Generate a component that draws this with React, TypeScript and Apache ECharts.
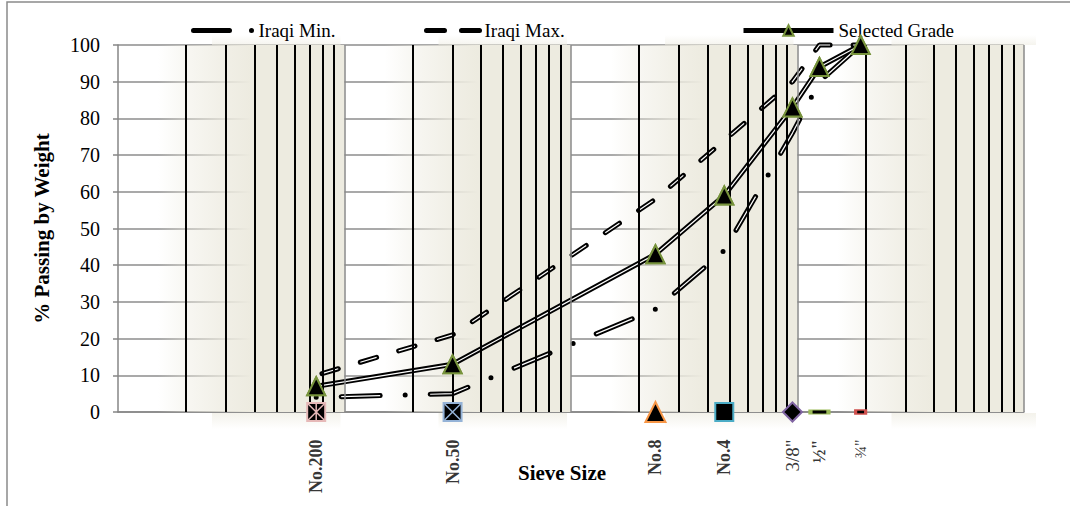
import React, { useEffect, useRef } from 'react';
import * as echarts from 'echarts';

// ---- data ----
const sieveNames = ['No.200', 'No.50', 'No.8', 'No.4', '3/8"', '½"', '¾"'];
const sieveSizes = [0.075, 0.3, 2.36, 4.75, 9.5, 12.5, 19];
const iraqiMin = [4, 5, 28, 44, 76, 90, 100];
const iraqiMax = [10, 21, 58, 74, 90, 100, 100];
const selectedGrade = [7, 13, 43, 59, 83, 94, 100];
const decadeStarts = [0.01, 0.1, 1, 10];
const minorMultipliers = [2, 3, 4, 5, 6, 7, 8, 9];
const majorLines = [0.1, 1, 10, 100];

// ---- style config ----
const FONT = "'Liberation Serif', 'Times New Roman', serif";
const GLOW = '237,235,224';
const GREEN = '#77933C';
const markerStyles: any[] = [
  { symbol: 'rect', size: 18, border: '#E6B9B8' },
  { symbol: 'rect', size: 18, border: '#95B3D7' },
  { symbol: 'triangle', size: 20, border: '#F79646' },
  { symbol: 'rect', size: 18, border: '#4BACC6' },
  { symbol: 'diamond', size: 19, border: '#8064A2' },
  { symbol: 'rect', size: [18, 4], border: '#9BBB59' },
  { symbol: 'rect', size: [10, 4], border: '#D0504D' },
];
const overlayMarks: any[] = [
  { idx: 0, path: 'path://M0,0L10,10M10,0L0,10M5,0L5,10', color: '#E6B9B8' },
  { idx: 1, path: 'path://M0,0L10,10M10,0L0,10', color: '#95B3D7' },
];
const labelStyles: any[] = [
  { fontWeight: 'bold', fontSize: 18 },
  { fontWeight: 'bold', fontSize: 18 },
  { fontWeight: 'bold', fontSize: 18 },
  { fontWeight: 'bold', fontSize: 18 },
  { fontWeight: 'normal', fontSize: 19 },
  { fontWeight: 'bold', fontSize: 18 },
  { fontWeight: 'normal', fontSize: 16 },
];

const pts = (vals: number[]) => sieveSizes.map((x, i) => [x, vals[i]]);

const MIN_DASH = [39, 25, 0, 25];
const MAX_DASH = [17, 23];

export default function App() {
  const ref = useRef<HTMLDivElement>(null);

  useEffect(() => {
    if (!ref.current) return;
    const chart = echarts.init(ref.current, null, { renderer: 'svg' });

    const glowGrad = {
      type: 'linear', x: 0, y: 0, x2: 1, y2: 0,
      colorStops: [
        { offset: 0, color: `rgba(${GLOW},0)` },
        { offset: 0.15, color: `rgba(${GLOW},0.4)` },
        { offset: 0.36, color: `rgba(${GLOW},0.8)` },
        { offset: 0.5, color: `rgba(${GLOW},1)` },
        { offset: 1, color: `rgba(${GLOW},1)` },
      ],
    };

    const bandData = decadeStarts.map((d) => [
      { xAxis: 1.5 * d, itemStyle: { color: glowGrad, opacity: 1 } },
      { xAxis: 10 * d },
    ]);

    const vLines: any[] = [];
    decadeStarts.forEach((d) =>
      minorMultipliers.forEach((m) =>
        vLines.push({ xAxis: m * d, lineStyle: { color: '#000', width: 2, type: 'solid' } })
      )
    );
    majorLines.forEach((v) =>
      vLines.push({ xAxis: v, lineStyle: { color: '#8a8a8a', width: 1.5, type: 'solid' } })
    );

    const textStyle = { fontFamily: FONT, fontSize: 19, color: '#000' };

    const option: any = {
      animation: false,
      textStyle: { fontFamily: FONT },
      grid: { left: 118, right: 46, top: 45, bottom: 94, containLabel: false },
      legend: [
        {
          data: ['Iraqi Min.'], left: 186, top: 16, itemWidth: 60, itemHeight: 12, itemGap: 0,
          textStyle, selectedMode: false, itemStyle: { opacity: 0 },
          lineStyle: { width: 5, dashOffset: 0, type: [36, 22, 0, 22] },
        },
        {
          data: ['Iraqi Max.'], left: 419, top: 16, itemWidth: 53, itemHeight: 12,
          textStyle, selectedMode: false, itemStyle: { opacity: 0 },
          lineStyle: { width: 5, dashOffset: 0, type: [18, 17] },
        },
        {
          data: ['Selected Grade'], left: 736, top: 16, itemWidth: 90, itemHeight: 13,
          textStyle, selectedMode: false, lineStyle: { width: 5 },
        },
      ],
      xAxis: {
        type: 'log', logBase: 10, min: 0.01, max: 100,
        name: 'Sieve Size', nameLocation: 'middle', nameGap: 50,
        nameTextStyle: { fontFamily: FONT, fontWeight: 'bold', fontSize: 21, color: '#000', padding: [0, 18, 0, 0] },
        axisLine: { lineStyle: { color: '#868686', width: 1.5 } },
        axisTick: { show: false },
        axisLabel: { show: false },
        splitLine: { show: false },
        minorTick: { show: false },
      },
      yAxis: {
        type: 'value', min: 0, max: 100, interval: 10,
        name: '% Passing by Weight', nameLocation: 'middle', nameGap: 66,
        nameTextStyle: { fontFamily: FONT, fontWeight: 'bold', fontSize: 21, color: '#000' },
        axisLine: { show: true, lineStyle: { color: '#868686', width: 1.5 } },
        axisTick: { show: true, length: 5, lineStyle: { color: '#868686', width: 1.5 } },
        axisLabel: { fontFamily: FONT, fontSize: 20, color: '#000', margin: 18 },
        splitLine: { show: true, lineStyle: { color: '#8c8c8c', width: 1.5 } },
      },
      series: [
        {
          name: 'bg', type: 'scatter', data: [[1, 50]], symbolSize: 0, silent: true, z: 1,
          itemStyle: { opacity: 0 },
          markArea: { silent: true, data: bandData },
          markLine: { silent: true, symbol: 'none', label: { show: false }, data: vLines },
        },
        {
          name: 'Iraqi Min.', type: 'line', data: pts(iraqiMin), symbol: 'none', z: 3, clip: false,
          itemStyle: { color: '#000' },
          lineStyle: { color: '#000', width: 5, type: MIN_DASH, dashOffset: 64, cap: 'round' },
        },
        {
          name: 'Iraqi Min. inner', type: 'line', data: pts(iraqiMin), symbol: 'none', z: 4, clip: false,
          lineStyle: { color: '#fff', width: 1.2, type: MIN_DASH, dashOffset: 64, cap: 'butt' },
        },
        {
          name: 'Iraqi Max.', type: 'line', data: pts(iraqiMax), symbol: 'none', z: 3, clip: false,
          itemStyle: { color: '#000' },
          lineStyle: { color: '#000', width: 5, type: MAX_DASH, dashOffset: 33.5, cap: 'round' },
        },
        {
          name: 'Iraqi Max. inner', type: 'line', data: pts(iraqiMax), symbol: 'none', z: 4, clip: false,
          lineStyle: { color: '#fff', width: 1.2, type: MAX_DASH, dashOffset: 33.5, cap: 'butt' },
        },
        {
          name: 'Selected Grade', type: 'line', data: pts(selectedGrade), symbol: 'triangle', symbolSize: 18,
          z: 3, clip: false,
          itemStyle: { color: '#000', borderColor: GREEN, borderWidth: 2 },
          lineStyle: { color: '#000', width: 5, type: 'solid' },
        },
        {
          name: 'Selected Grade inner', type: 'line', data: pts(selectedGrade), symbol: 'none', z: 4, clip: false,
          lineStyle: { color: '#fff', width: 1.2, type: 'solid' },
        },
        {
          name: 'Selected Grade markers', type: 'scatter', data: pts(selectedGrade), symbol: 'triangle',
          symbolSize: 18, z: 6, clip: false,
          itemStyle: { color: '#000', borderColor: GREEN, borderWidth: 2, opacity: 1 },
        },
        {
          name: 'Sieve markers', type: 'scatter', z: 5, clip: false, silent: true,
          data: sieveSizes.map((x, i) => ({
            value: [x, 0],
            symbol: markerStyles[i].symbol,
            symbolSize: markerStyles[i].size,
            itemStyle: { color: '#000', borderColor: markerStyles[i].border, borderWidth: 2, opacity: 1 },
          })),
        },
        {
          name: 'Sieve marker overlay', type: 'scatter', z: 6, clip: false, silent: true,
          data: overlayMarks.map((o) => ({
            value: [sieveSizes[o.idx], 0],
            symbol: o.path,
            symbolSize: 16,
            itemStyle: { color: 'rgba(0,0,0,0)', borderColor: o.color, borderWidth: 1.5, opacity: 1 },
          })),
        },
        {
          name: 'Sieve labels', type: 'scatter', z: 6, clip: false, silent: true, symbolSize: 1,
          itemStyle: { color: 'rgba(0,0,0,0)' },
          label: {
            show: true, formatter: '{b}', position: 'bottom', distance: 27, rotate: 90,
            align: 'right', verticalAlign: 'middle', fontFamily: FONT, color: '#000',
          },
          data: sieveSizes.map((x, i) => ({
            name: sieveNames[i],
            value: [x, 0],
            label: { fontWeight: labelStyles[i].fontWeight, fontSize: labelStyles[i].fontSize },
          })),
        },
      ],
    };

    chart.setOption(option);

    // soft glow spilling above and below the plot area, placed through the axes' scales
    const toPx = (x: number, y: number) =>
      chart.convertToPixel({ xAxisIndex: 0, yAxisIndex: 0 }, [x, y]) as number[];
    const graphics: any[] = [
      {
        id: 'border', type: 'rect', silent: true, z: 0,
        shape: { x: 7, y: 2, width: 1200, height: 700 },
        style: { fill: 'none', stroke: '#8a8a8a', lineWidth: 1.5 },
      },
    ];
    const vGrad = (a0: number, a1: number) => ({
      type: 'linear', x: 0, y: 0, x2: 0, y2: 1,
      colorStops: [
        { offset: 0, color: `rgba(${GLOW},${a0})` },
        { offset: 1, color: `rgba(${GLOW},${a1})` },
      ],
    });
    decadeStarts.forEach((d, i) => {
      const x0 = toPx(2.6 * d, 0)[0];
      const x1 = toPx(10 * d, 0)[0] + (i === decadeStarts.length - 1 ? 12 : -4);
      const yTop = toPx(1, 100)[1];
      const yBot = toPx(1, 0)[1];
      graphics.push({
        id: 'gt' + i, type: 'rect', silent: true, z: 1,
        shape: { x: x0, y: yTop - 10, width: x1 - x0, height: 10 },
        style: { fill: vGrad(0, 0.55) },
      });
      graphics.push({
        id: 'gb' + i, type: 'rect', silent: true, z: 1,
        shape: { x: x0, y: yBot + 1, width: x1 - x0, height: 16 },
        style: { fill: vGrad(0.65, 0) },
      });
    });
    chart.setOption({ graphic: graphics });

    return () => chart.dispose();
  }, []);

  return (
    <div
      ref={ref}
      style={{ position: 'fixed', left: 0, top: 0, width: 1070, height: 506, background: '#fff' }}
    />
  );
}
